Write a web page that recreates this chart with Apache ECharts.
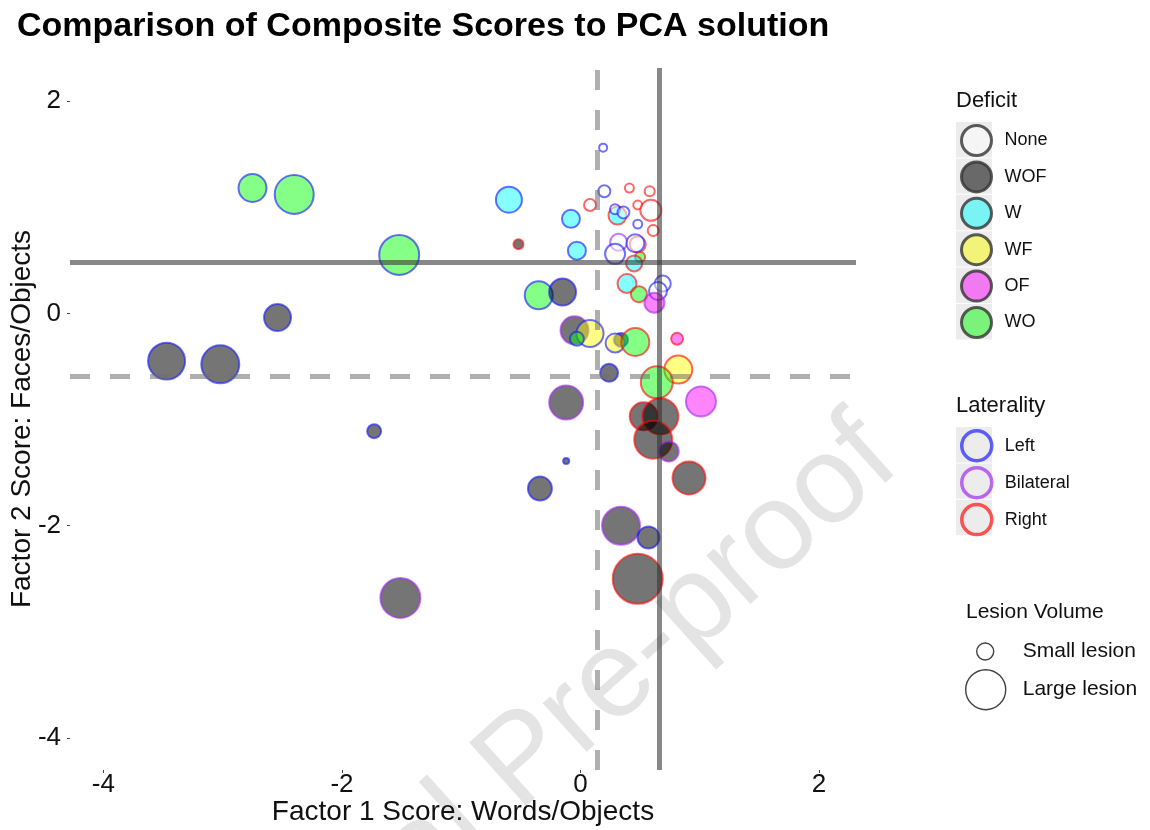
<!DOCTYPE html>
<html>
<head>
<meta charset="utf-8">
<script src="https://cdn.jsdelivr.net/npm/echarts@6/dist/echarts.min.js"></script>
<style>
  html, body { margin: 0; padding: 0; background: #fff; }
  #chart { width: 1150px; height: 830px; }
</style>
</head>
<body>
<div id="chart"></div>
<script>
// factor scores, one entry per patient
const xScore = [-2.75, -2.40, -1.52, -2.54, -3.47, -3.02, -1.73, 0.19, -0.60, -0.52,
  -0.08, -0.03, 0.20, 0.08, 0.41, 0.58, 0.48, 0.59, 0.31, 0.29,
  0.36, 0.48, 0.61, 0.32, 0.48, 0.46, 0.29, 0.50, 0.45, 0.39,
  0.69, 0.65, 0.49, 0.62, -0.35, -0.15, -0.05, 0.08, -0.03, 0.34,
  0.29, 0.46, 0.81, 0.24, 0.82, 0.64, 1.01, -0.12, 0.53, 0.67,
  0.61, 0.74, -0.12, -0.34, 0.91, 0.34, 0.57, 0.48, -1.51]
const yScore = [1.18, 1.12, 0.55, -0.04, -0.45, -0.48, -1.11, 1.56, 1.07, 0.65,
  0.89, 0.59, 1.15, 1.02, 1.18, 1.15, 1.02, 0.97, 0.92, 0.98,
  0.95, 0.84, 0.78, 0.67, 0.65, 0.66, 0.56, 0.53, 0.47, 0.28,
  0.28, 0.21, 0.18, 0.10, 0.17, 0.20, -0.16, -0.19, -0.24, -0.25,
  -0.28, -0.27, -0.24, -0.56, -0.53, -0.65, -0.83, -0.84, -0.97, -0.97,
  -1.19, -1.30, -1.39, -1.65, -1.55, -2.00, -2.11, -2.50, -2.68]
const lesionVol = [36, 67.2, 70.6, 33.6, 60.8, 64, 10.2, 4, 31.4, 5.8,
  16, 16, 7.8, 7.8, 4.8, 5.8, 4.8, 21.2, 16, 5.8,
  7.8, 4.8, 6.8, 14.4, 13, 16, 19.4, 5.8, 13, 17.6,
  13, 16, 13, 19.4, 36, 33.6, 36, 33.6, 10.2, 10.2,
  17.6, 36, 7.8, 16, 36, 46.2, 41, 51.8, 36, 57.8,
  64, 19.4, 2.6, 27, 49, 64, 23, 108.2, 70.6]
const deficit = ['WO', 'WO', 'WO', 'WOF', 'WOF', 'WOF', 'WOF', 'None', 'W', 'WOF',
  'W', 'W', 'None', 'None', 'None', 'None', 'None', 'None', 'W', 'None',
  'None', 'None', 'None', 'None', 'None', 'None', 'None', 'WO', 'W', 'W',
  'None', 'None', 'WO', 'OF', 'WO', 'WOF', 'WOF', 'WF', 'WO', 'WOF',
  'WF', 'WO', 'OF', 'WOF', 'WF', 'WO', 'OF', 'WOF', 'WOF', 'WOF',
  'WOF', 'WOF', 'WOF', 'WOF', 'WOF', 'WOF', 'WOF', 'WOF', 'WOF']
const laterality = ['Left', 'Left', 'Left', 'Left', 'Left', 'Left', 'Left', 'Left', 'Left', 'Right',
  'Left', 'Left', 'Left', 'Right', 'Right', 'Right', 'Right', 'Right', 'Right', 'Left',
  'Left', 'Left', 'Right', 'Bilateral', 'Right', 'Left', 'Left', 'Right', 'Right', 'Right',
  'Left', 'Left', 'Right', 'Bilateral', 'Left', 'Left', 'Bilateral', 'Left', 'Left', 'Left',
  'Left', 'Right', 'Right', 'Left', 'Right', 'Right', 'Bilateral', 'Bilateral', 'Right', 'Right',
  'Right', 'Bilateral', 'Left', 'Left', 'Right', 'Bilateral', 'Left', 'Right', 'Bilateral']

const deficitNames = ['None', 'WOF', 'W', 'WF', 'OF', 'WO']
const lateralityNames = ['Left', 'Bilateral', 'Right']
const volumeNames = ['Small lesion', 'Large lesion']
const axisTicks = [-4, -2, 0, 2]

// cut-offs: composite score thresholds (solid) and PCA thresholds (dashed)
const vSolid = 0.655
const vDash = 0.145
const hSolid = 0.48
const hDash = -0.59

const fillOf = {
  None: 'rgba(255,255,255,0.6)', WOF: 'rgba(0,0,0,0.68)', W: 'rgba(0,255,255,0.6)',
  WF: 'rgba(255,255,0,0.6)', OF: 'rgba(255,0,255,0.6)', WO: 'rgba(0,255,0,0.6)'
}
const keyFill = {
  None: '#f7f7f7', WOF: '#484848', W: '#5cf5f5', WF: '#f5f55c', OF: '#f55cf5', WO: '#5cf55c'
}
const borderOf = {
  Left: 'rgba(25,25,255,0.78)', Bilateral: 'rgba(160,40,240,0.78)', Right: 'rgba(255,10,10,0.78)'
}
const FONT = '"Liberation Sans", Arial, Helvetica, sans-serif'

const points = xScore.map((x, i) => ({
  value: [x, yScore[i], lesionVol[i]],
  itemStyle: { color: fillOf[deficit[i]], borderColor: borderOf[laterality[i]], borderWidth: 2 }
}))

const chart = echarts.init(document.getElementById('chart'), null, { renderer: 'canvas' })

const keyX = 956, keyW = 36, rowH = 36.4
const defTop = 122, latTop = 427
const keyRects = []
for (let k = 0; k < deficitNames.length; k++) {
  keyRects.push({ type: 'rect', shape: { x: keyX, y: defTop + k * rowH, width: keyW, height: rowH - 1 }, style: { fill: '#ececec' }, z: 0 })
}
for (let k = 0; k < lateralityNames.length; k++) {
  keyRects.push({ type: 'rect', shape: { x: keyX, y: latTop + k * rowH, width: keyW, height: rowH - 1 }, style: { fill: '#ececec' }, z: 0 })
}

const legendText = { fontSize: 18, color: '#111', fontFamily: FONT }

const dummy = deficitNames.concat(lateralityNames, volumeNames).map(n => ({ name: n, type: 'scatter', data: [] }))

const option = {
  animation: false,
  backgroundColor: '#fff',
  textStyle: { fontFamily: FONT },
  title: [
    { text: 'Comparison of Composite Scores to PCA solution', left: 17, top: 10, padding: 0,
      textStyle: { fontSize: 34, fontWeight: 'bold', color: '#000', fontFamily: FONT } },
    { text: 'Deficit', left: 956, top: 90, padding: 0, textStyle: { fontSize: 22, fontWeight: 'normal', color: '#111', fontFamily: FONT } },
    { text: 'Laterality', left: 956, top: 395, padding: 0, textStyle: { fontSize: 22, fontWeight: 'normal', color: '#111', fontFamily: FONT } },
    { text: 'Lesion Volume', left: 966, top: 602, padding: 0, textStyle: { fontSize: 21, fontWeight: 'normal', color: '#111', fontFamily: FONT } }
  ],
  grid: { left: 70, right: 294, top: 68, bottom: 60, outerBoundsMode: 'none', containLabel: false },
  xAxis: {
    type: 'value', min: -4.28, max: 2.31,
    name: 'Factor 1 Score: Words/Objects', nameLocation: 'middle', nameGap: 28, nameMoveOverlap: false,
    nameTextStyle: { fontSize: 28, color: '#111', fontFamily: FONT },
    axisLine: { show: false, onZero: false },
    axisTick: { show: true, length: 3, customValues: axisTicks, lineStyle: { color: '#444', width: 1 } },
    axisLabel: { customValues: axisTicks, fontSize: 26, color: '#111', margin: 2, fontFamily: FONT },
    splitLine: { show: false }
  },
  yAxis: {
    type: 'value', min: -4.3, max: 2.31,
    name: 'Factor 2 Score: Faces/Objects', nameLocation: 'middle', nameGap: 34, nameMoveOverlap: false,
    nameTextStyle: { fontSize: 28, color: '#111', fontFamily: FONT },
    axisLine: { show: false, onZero: false },
    axisTick: { show: true, length: 3, customValues: axisTicks, lineStyle: { color: '#444', width: 1 } },
    axisLabel: { customValues: axisTicks, fontSize: 26, color: '#111', margin: 9, fontFamily: FONT },
    splitLine: { show: false }
  },
  legend: [
    { orient: 'vertical', left: 960, top: defTop + 2, padding: 0, itemGap: 3.4, itemWidth: 46, itemHeight: 30,
      icon: 'circle', selectedMode: false, textStyle: legendText,
      data: deficitNames.map(n => ({ name: n, itemStyle: { color: keyFill[n], borderColor: '#333', borderWidth: 3 } })) },
    { orient: 'vertical', left: 960, top: latTop + 2, padding: 0, itemGap: 3.4, itemWidth: 46, itemHeight: 30,
      icon: 'circle', selectedMode: false, textStyle: legendText,
      data: lateralityNames.map(n => ({ name: n, itemStyle: { color: '#ececec', borderColor: borderOf[n].replace('0.78', '0.85'), borderWidth: 3.5 } })) },
    { orient: 'vertical', left: 976, top: 641, padding: 0, itemWidth: 65, itemHeight: 17,
      icon: 'circle', selectedMode: false, textStyle: { fontSize: 21, color: '#111', fontFamily: FONT },
      data: [{ name: volumeNames[0], itemStyle: { color: '#fff', borderColor: '#111', borderWidth: 1.4 } }] },
    { orient: 'vertical', left: 965, top: 669, padding: 0, itemWidth: 64, itemHeight: 40,
      icon: 'circle', selectedMode: false, textStyle: { fontSize: 21, color: '#111', fontFamily: FONT },
      data: [{ name: volumeNames[1], itemStyle: { color: '#fff', borderColor: '#111', borderWidth: 1.4 } }] }
  ],
  graphic: keyRects.concat([
    { type: 'text', x: 524, y: 762, rotation: 42 * Math.PI / 180, z: -1, silent: true,
      style: { text: 'Journal Pre-proof', fill: '#e4e4e4', font: '124px "Liberation Sans", Arial, sans-serif',
        align: 'center', verticalAlign: 'middle' } }
  ]),
  series: [
    { name: 'patients', type: 'scatter', z: 2, data: points,
      symbolSize: v => 5 * Math.sqrt(v[2]) - 2,
      emphasis: { disabled: true } },
    { name: 'cutoffs', type: 'scatter', z: 5, data: [],
      markLine: {
        silent: true, symbol: ['none', 'none'], label: { show: false }, animation: false,
        data: [
          { xAxis: vDash, lineStyle: { color: 'rgba(110,110,110,0.55)', width: 5, type: [20, 20] } },
          { yAxis: hDash, lineStyle: { color: 'rgba(110,110,110,0.55)', width: 5, type: [20, 20] } },
          { xAxis: vSolid, lineStyle: { color: 'rgba(50,50,50,0.58)', width: 5, type: 'solid' } },
          { yAxis: hSolid, lineStyle: { color: 'rgba(50,50,50,0.58)', width: 5, type: 'solid' } }
        ]
      } }
  ].concat(dummy)
}

chart.setOption(option)
</script>
</body>
</html>
